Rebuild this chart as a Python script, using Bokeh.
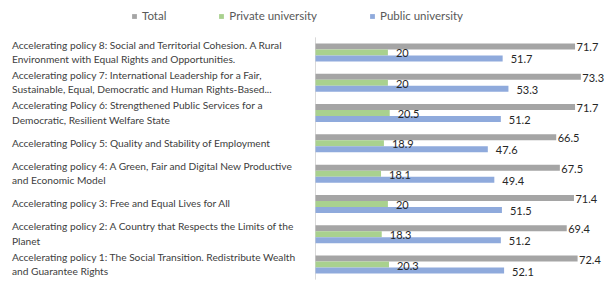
from bokeh.plotting import figure
from bokeh.models import Range1d, ColumnDataSource, Legend, LegendItem
from bokeh.core.properties import value
from bokeh.embed import file_html
from bokeh.resources import INLINE

categories = [
    "Accelerating policy 1: The Social Transition. Redistribute Wealth\nand Guarantee Rights",
    "Accelerating policy 2: A Country that Respects the Limits of the\nPlanet",
    "Accelerating policy 3: Free and Equal Lives for All",
    "Accelerating policy 4: A Green, Fair and Digital New Productive\nand Economic Model",
    "Accelerating Policy 5: Quality and Stability of Employment",
    "Accelerating Policy 6: Strengthened Public Services for a\nDemocratic, Resilient Welfare State",
    "Accelerating policy 7: International Leadership for a Fair,\nSustainable, Equal, Democratic and Human Rights-Based...",
    "Accelerating policy 8: Social and Territorial Cohesion. A Rural\nEnvironment with Equal Rights and Opportunities.",
]
total = [72.4, 69.4, 71.4, 67.5, 66.5, 71.7, 73.3, 71.7]
private = [20.3, 18.3, 20.0, 18.1, 18.9, 20.5, 20.0, 20.0]
public = [52.1, 51.2, 51.5, 49.4, 47.6, 51.2, 53.3, 51.7]
series_names = ["Total", "Private university", "Public university"]
colors = ["#A5A5A5", "#A9D18E", "#8FAADC"]

W, H = 605, 288
px_per_unit = 3.62
zero_px = 315
row_px = 30.29
x_start = -zero_px / px_per_unit
x_end = (W - zero_px) / px_per_unit
y_top = 7.5 + 52 / row_px
y_bot = 0.5 - (H - 264) / row_px

p = figure(width=W, height=H, output_backend="svg", toolbar_location=None,
           x_range=Range1d(x_start, x_end), y_range=Range1d(y_bot, y_top),
           min_border=0, outline_line_color=None)
p.xaxis.visible = False
p.yaxis.visible = False
p.grid.visible = False
p.background_fill_color = "white"
p.border_fill_color = "white"

n = len(categories)
centers = [i + 0.5 for i in range(n)]
bar_h = 6 / row_px
offsets = [bar_h, 0.0, -bar_h]
series = [total, private, public]
label_xoff = [1.5, 8, 8]

# axis line along the category bands
p.segment(x0=[0], y0=[0], x1=[0], y1=[n], line_color="#D9D9D9", line_width=1)

renderers = []
sources = []
for vals, off, col in zip(series, offsets, colors):
    ys = [c + off for c in centers]
    src = ColumnDataSource(dict(y=ys, right=vals, lab=[f"{v:g}" for v in vals]))
    r = p.hbar(y="y", right="right", left=0, height=bar_h, source=src,
               fill_color=col, line_color=None)
    renderers.append(r)
    sources.append(src)

for src, xo in zip(sources, label_xoff):
    p.text(x="right", y="y", text="lab", source=src, x_offset=xo, y_offset=1,
           text_font=value("Lato"), text_font_size="11px", text_color="#262626",
           text_baseline="middle", text_align="left")

csrc = ColumnDataSource(dict(x=[x_start] * n, y=centers, t=categories))
p.text(x="x", y="y", text="t", source=csrc, x_offset=11.5, y_offset=-0.7,
       text_font=value("Lato"), text_font_size="10.2px", text_color="#404040",
       text_baseline="middle", text_align="left", text_line_height=1.2)

legend = Legend(items=[LegendItem(label=s, renderers=[r]) for s, r in zip(series_names, renderers)],
                orientation="horizontal", location=(131, 266),
                glyph_width=6, glyph_height=6, label_standoff=5, spacing=52,
                label_height=12, padding=0, margin=0,
                label_text_font="Lato", label_text_font_size="11.5px",
                label_text_color="#595959",
                border_line_color=None, background_fill_alpha=0)
p.add_layout(legend, "center")

open("out.html", "w").write(file_html(p, INLINE))
